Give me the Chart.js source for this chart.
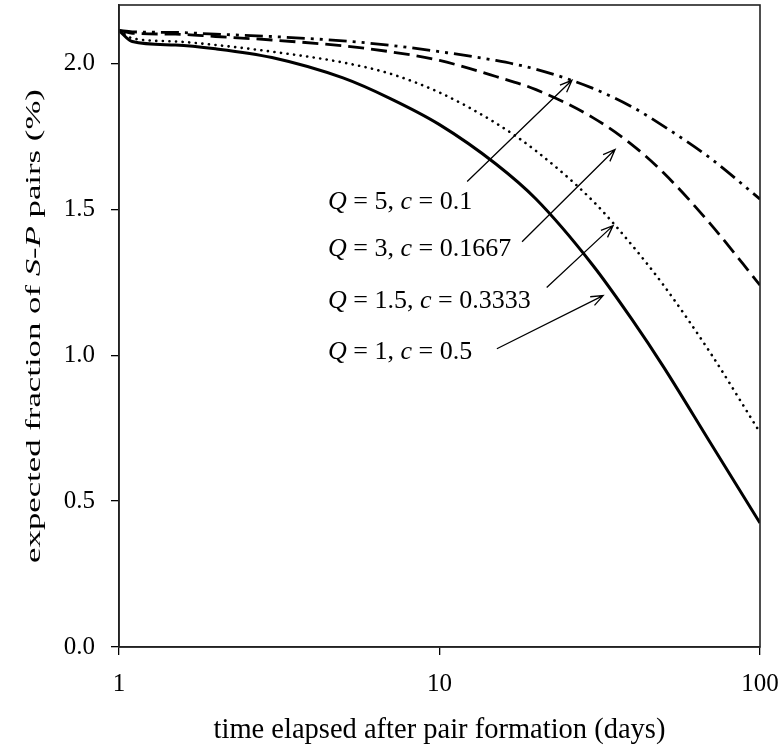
<!DOCTYPE html>
<html>
<head>
<meta charset="utf-8">
<script src="https://cdn.jsdelivr.net/npm/chart.js@4.4.0/dist/chart.umd.min.js"></script>
<style>
  html, body { margin: 0; padding: 0; background: #fff; }
  #wrap { width: 784px; height: 748px; }
</style>
</head>
<body>
<div id="wrap"><canvas id="chart" width="784" height="748"></canvas></div>
<script>
/* ==================== DATA ==================== */
const days = [1, 1.1, 1.5, 2, 3, 5, 7, 10, 15, 20, 30, 40, 50, 70, 100];
const q1   = [2.113, 2.075, 2.063, 2.05, 2.02, 1.95, 1.88, 1.79, 1.655, 1.535, 1.31, 1.12, 0.96, 0.70, 0.425];
const q15  = [2.113, 2.086, 2.075, 2.063, 2.04, 2.003, 1.965, 1.90, 1.795, 1.70, 1.53, 1.375, 1.24, 1.008, 0.735];
const q3   = [2.113, 2.103, 2.10, 2.092, 2.08, 2.06, 2.04, 2.01, 1.955, 1.91, 1.815, 1.72, 1.625, 1.45, 1.24];
const q5   = [2.113, 2.108, 2.106, 2.10, 2.092, 2.077, 2.062, 2.04, 2.01, 1.98, 1.915, 1.85, 1.785, 1.675, 1.535];

const xTicks = [1, 10, 100];
const yTicks = [0, 0.5, 1, 1.5, 2];

// annotation labels (Q, c) and their arrows, in data units (days, %)
const noteQ = ["5", "3", "1.5", "1"];
const noteC = ["0.1", "0.1667", "0.3333", "0.5"];
const noteAt = [[4.49, 1.523], [4.49, 1.362], [4.49, 1.184], [4.49, 1.009]];
const arrowFrom = [[12.2, 1.595], [18.1, 1.389], [21.6, 1.232], [15.1, 1.022]];
const arrowTo = [[25.9, 1.942], [35.3, 1.705], [34.8, 1.444], [32.4, 1.204]];

const FONT = "'Liberation Serif', 'Times New Roman', serif";

const pts = (ys) => days.map((d, i) => ({ x: d, y: ys[i] }));

/* ==================== HELPERS ==================== */
// draw text made of [string, italic] parts
function richText(ctx, parts, x, y, size, align, baseline) {
  const widths = parts.map(([t, it]) => {
    ctx.font = (it ? "italic " : "") + size + "px " + FONT;
    return ctx.measureText(t).width;
  });
  const total = widths.reduce((a, b) => a + b, 0);
  let cx = align === "center" ? x - total / 2 : x;
  ctx.textAlign = "left";
  ctx.textBaseline = baseline || "middle";
  parts.forEach(([t, it], i) => {
    ctx.font = (it ? "italic " : "") + size + "px " + FONT;
    ctx.fillText(t, cx, y);
    cx += widths[i];
  });
}

function arrow(ctx, x1, y1, x2, y2) {
  const a = Math.atan2(y2 - y1, x2 - x1);
  const len = 13, spread = 0.38;
  ctx.beginPath();
  ctx.moveTo(x1, y1);
  ctx.lineTo(x2, y2);
  ctx.moveTo(x2 - len * Math.cos(a - spread), y2 - len * Math.sin(a - spread));
  ctx.lineTo(x2, y2);
  ctx.lineTo(x2 - len * Math.cos(a + spread), y2 - len * Math.sin(a + spread));
  ctx.stroke();
}

/* ==================== DECORATIONS ==================== */
const decor = {
  id: "decor",
  afterDraw(chart) {
    const { ctx, chartArea: ca, scales } = chart;
    const sx = scales.x, sy = scales.y;
    ctx.save();

    // frame
    ctx.strokeStyle = "#222";
    ctx.lineWidth = 1.6;
    ctx.strokeRect(ca.left, ca.top, ca.right - ca.left, ca.bottom - ca.top);

    ctx.fillStyle = "#000";
    // x title
    richText(ctx, [["time elapsed after pair formation (days)", 0]],
      (ca.left + ca.right) / 2, 738, 28.5, "center", "alphabetic");

    // y title (glyphs are drawn stretched along the text, like the original)
    ctx.save();
    ctx.translate(34, (ca.top + ca.bottom) / 2);
    ctx.rotate(-Math.PI / 2);
    ctx.scale(1.58, 1);
    richText(ctx, [["expected fraction of ", 0], ["S", 1], ["-", 0], ["P", 1], [" pairs (%)", 0]],
      0, 0, 22, "center");
    ctx.restore();

    // annotations
    ctx.strokeStyle = "#000";
    ctx.lineWidth = 1.3;
    noteQ.forEach((q, i) => {
      richText(ctx, [["Q", 1], [" = " + q + ", ", 0], ["c", 1], [" = " + noteC[i], 0]],
        sx.getPixelForValue(noteAt[i][0]), sy.getPixelForValue(noteAt[i][1]), 26, "left");
      arrow(ctx,
        sx.getPixelForValue(arrowFrom[i][0]), sy.getPixelForValue(arrowFrom[i][1]),
        sx.getPixelForValue(arrowTo[i][0]), sy.getPixelForValue(arrowTo[i][1]));
    });
    ctx.restore();
  }
};

/* ==================== CHART ==================== */
const lineBase = {
  borderColor: "#000",
  backgroundColor: "#000",
  pointRadius: 0,
  fill: false,
  cubicInterpolationMode: "monotone"
};

// keep the plot box where the original has it
function fixBox(s, size) {
  if (s.isHorizontal()) s.height = size; else s.width = size;
  s.paddingTop = 0; s.paddingBottom = 0; s.paddingLeft = 0; s.paddingRight = 0;
}

new Chart(document.getElementById("chart"), {
  type: "line",
  data: {
    datasets: [
      { ...lineBase, label: "Q = 1, c = 0.5", data: pts(q1), borderWidth: 3 },
      { ...lineBase, label: "Q = 1.5, c = 0.3333", data: pts(q15), borderWidth: 2.6,
        borderDash: [0.1, 6.5], borderCapStyle: "round" },
      { ...lineBase, label: "Q = 3, c = 0.1667", data: pts(q3), borderWidth: 2.8,
        borderDash: [16, 7] },
      { ...lineBase, label: "Q = 5, c = 0.1", data: pts(q5), borderWidth: 2.8,
        borderDash: [18, 6, 3, 6, 3, 6] }
    ]
  },
  options: {
    responsive: false,
    animation: false,
    devicePixelRatio: 1,
    layout: { padding: { top: 5, right: 24, left: 0, bottom: 0 } },
    plugins: { legend: { display: false }, tooltip: { enabled: false } },
    scales: {
      x: {
        type: "logarithmic",
        min: 1,
        max: 100,
        afterBuildTicks: (s) => { s.ticks = xTicks.map(v => ({ value: v })); },
        afterFit: (s) => fixBox(s, 101),
        ticks: {
          color: "#000",
          font: { family: FONT, size: 25 },
          padding: 14,
          maxRotation: 0,
          callback: (v) => String(v)
        },
        grid: { drawOnChartArea: false, drawTicks: true, tickLength: 8, color: "#000", lineWidth: 1.3 },
        border: { display: true, color: "#222", width: 1.6 }
      },
      y: {
        min: 0,
        max: 2.2,
        afterBuildTicks: (s) => { s.ticks = yTicks.map(v => ({ value: v })); },
        afterFit: (s) => fixBox(s, 119),
        ticks: {
          color: "#000",
          font: { family: FONT, size: 25 },
          padding: 16,
          callback: (v) => Number(v).toFixed(1)
        },
        grid: { drawOnChartArea: false, drawTicks: true, tickLength: 8, color: "#000", lineWidth: 1.3 },
        border: { display: true, color: "#222", width: 1.6 }
      }
    }
  },
  plugins: [decor]
});
</script>
</body>
</html>
